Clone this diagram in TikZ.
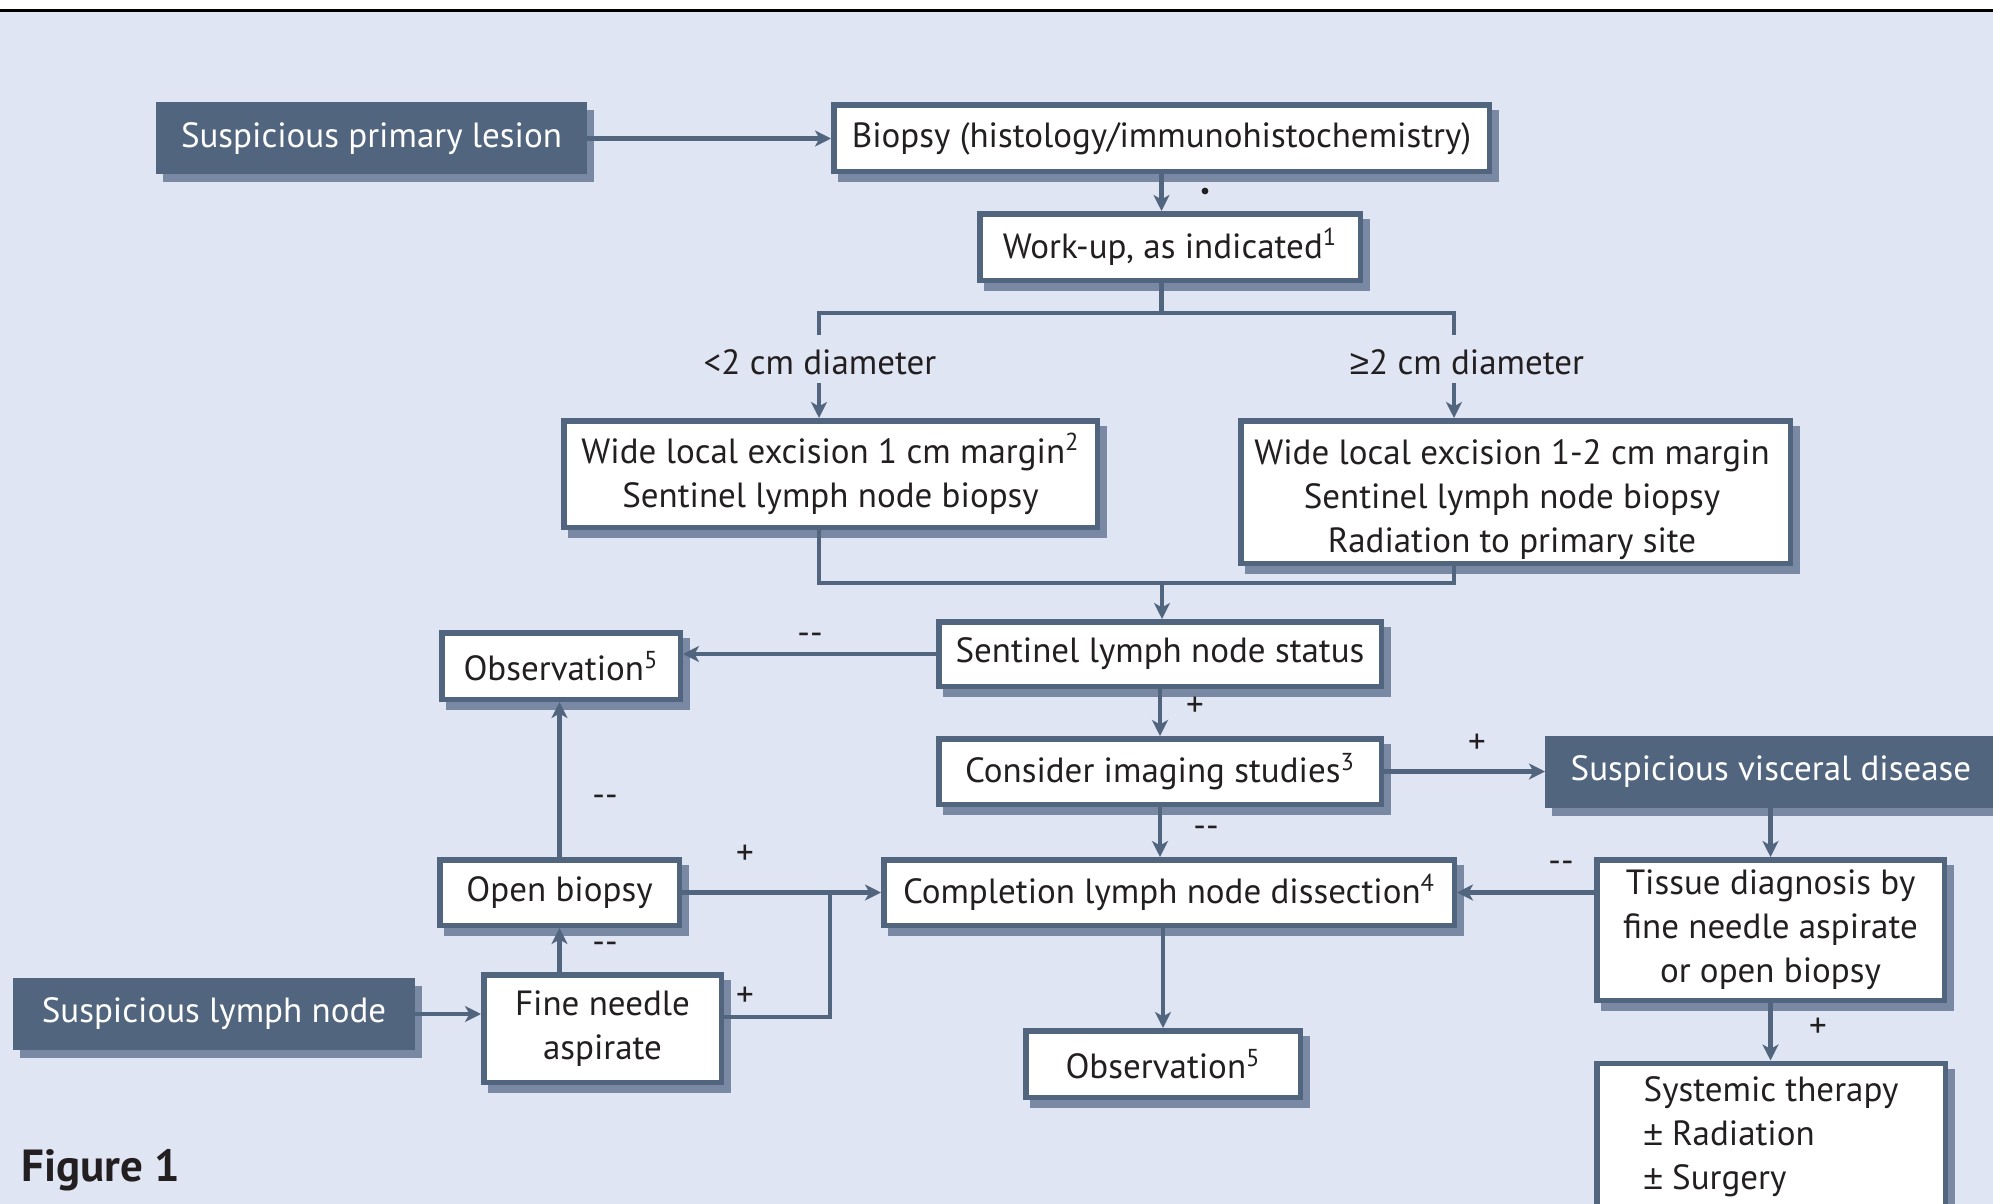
\documentclass[tikz,border=0pt]{standalone}
\usepackage{fontspec}
\setmainfont{PT Sans}
\newfontfamily\gefont{Liberation Sans}
\usetikzlibrary{arrows.meta,shadows,calc}
\definecolor{bg}{RGB}{223,229,243}
\definecolor{dk}{RGB}{82,101,127}
\definecolor{sh}{RGB}{122,137,163}
\definecolor{tx}{RGB}{35,31,32}
\newcommand\fs{\fontsize{17.5pt}{22pt}\selectfont}
\tikzset{
  wh/.style 2 args={minimum width=#1*0.5pt-2.75pt, minimum height=#2*0.5pt-2.75pt},
  box/.style={draw=dk, fill=white, line width=2.75pt, inner sep=0pt, align=center,
    text=tx, font=\fs,
    general shadow={fill=sh, draw=sh, line width=2.75pt, shadow xshift=3.5pt, shadow yshift=-4pt}},
  dbox/.style={box, fill=dk, text=white},
  ln/.style={draw=dk, line width=2.1pt},
  arr/.style={ln, -{Stealth[length=8pt,width=8pt,inset=2.2pt]}},
  lab/.style={font=\fs, text=tx, inner sep=0pt},
}
\begin{document}
\begin{tikzpicture}[x=0.5pt,y=-0.5pt]
\useasboundingbox (0,0) rectangle (1993,1204);
\fill[white] (0,0) rectangle (1993,1204);
\fill[bg] (0,12) rectangle (1993,1204);
\draw[black, line width=1.75pt] (0,10.5) -- (1993,10.5);

% nodes
\node[dbox, wh={431}{72}] (spl) at (371.5,138.5) {Suspicious primary lesion};
\node[box, wh={661}{72}] (bio) at (1161.5,138.5) {Biopsy (histology/immunohistochemistry)};
\node[box, wh={386}{72}] (wu) at (1170,247) {Work-up, as indicated\textsuperscript{1}};
\node[lab] (l1) at (820,362) {<2 cm diameter};
\node[lab] (l2) at (1467,362) {{\gefont ≥}2 cm diameter};
\node[box, wh={539}{112}] (exc1) at (830.5,474) {Wide local excision 1 cm margin\textsuperscript{2}\\Sentinel lymph node biopsy};
\node[box, wh={555}{148}] (exc2) at (1515.5,492) {};
\node[lab, align=center] (exc2t) at (1512,500) {Wide local excision 1-2 cm margin\\Sentinel lymph node biopsy\\Radiation to primary site};
\node[box, wh={448}{70}] (sls) at (1160,654) {Sentinel lymph node status};
\node[box, wh={244}{72}] (obs1) at (561,666) {Observation\textsuperscript{5}};
\node[box, wh={448}{71}] (cis) at (1160,771.5) {Consider imaging studies\textsuperscript{3}};
\node[dbox, wh={470}{72}] (svd) at (1780,772) {\hspace*{-9pt}Suspicious visceral disease};
\node[box, wh={576}{71}] (cld) at (1169,892.5) {Completion lymph node dissection\textsuperscript{4}};
\node[box, wh={353}{146}] (tis) at (1770.5,930) {Tissue diagnosis by\\fine needle aspirate\\or open biopsy};
\node[box, wh={354}{153}, align=left] (sys) at (1771,1137) {Systemic therapy\\{\gefont ±} Radiation\\{\gefont ±} Surgery};
\node[box, wh={280}{72}] (obs2) at (1163,1064) {Observation\textsuperscript{5}};
\node[box, wh={245}{71}] (ob) at (559.5,892.5) {Open biopsy};
\node[box, wh={243}{113}] (fna) at (602.5,1028.5) {Fine needle\\aspirate};
\node[dbox, wh={402}{72}] (sln) at (214,1014) {Suspicious lymph node};
\node[font=\fontsize{22.5pt}{26pt}\selectfont\bfseries, text=tx, anchor=base west, inner sep=0pt] (fig) at (21,1181) {Figure 1};

% coordinates
\coordinate (s1) at (1161.5,313);
\coordinate (sL) at (819,313);
\coordinate (sR) at (1454,313);
\coordinate (aL) at (819,383);
\coordinate (aR) at (1454,383);
\coordinate (m) at (1162,583);
\coordinate (fj) at (830,1017);

% connectors
\draw[arr] (spl.east) -- (bio.west);
\draw[arr] (bio.south) -- (bio.south |- wu.north);
\fill[tx] (1205,191) circle (1.7pt);
\draw[ln] (bio.south |- wu.south) -- (s1);
\draw[ln] (sL) ++(0,22) -- (sL) -- (sR) -- ++(0,22);
\draw[arr] (aL) -- (aL |- exc1.north);
\draw[arr] (aR) -- (aR |- exc2.north);
\draw[ln] (sL |- exc1.south) -- (sL |- m) -- (sR |- m) -- (sR |- exc2.south);
\draw[arr] (m) -- (m |- sls.north);
\draw[arr] (sls.west) -- (sls.west -| obs1.east);
\draw[arr] (sls.south) -- (sls.south |- cis.north);
\draw[arr] (cis.east) -- (cis.east -| svd.west);
\draw[arr] (cis.south) -- (cis.south |- cld.north);
\draw[arr] (tis.north |- svd.south) -- (tis.north);
\draw[arr] (cld.east -| tis.west) -- (cld.east);
\draw[arr] (tis.south) -- (tis.south |- sys.north);
\draw[arr] (obs2.north |- cld.south) -- (obs2.north);
\draw[arr] (ob.north) -- (ob.north |- obs1.south);
\draw[arr] (ob.east) -- (cld.west);
\draw[arr] (ob.south |- fna.north) -- (ob.south);
\draw[ln] (fna.east |- fj) -- (fj) -- (fj |- ob.east);
\draw[arr] (sln.east) -- (sln.east -| fna.west);

% labels
\node[lab] (n1) at (810,639) {-{}-};
\node[lab] (n2) at (1195,707) {+};
\node[lab] (n3) at (1477,744) {+};
\node[lab] (n4) at (1206,832) {-{}-};
\node[lab] (n5) at (1561,867) {-{}-};
\node[lab] (n6) at (1818,1028) {+};
\node[lab] (n7) at (605,801) {-{}-};
\node[lab] (n8) at (745,855) {+};
\node[lab] (n9) at (605,948) {-{}-};
\node[lab] (n10) at (745,997) {+};
\end{tikzpicture}
\end{document}
